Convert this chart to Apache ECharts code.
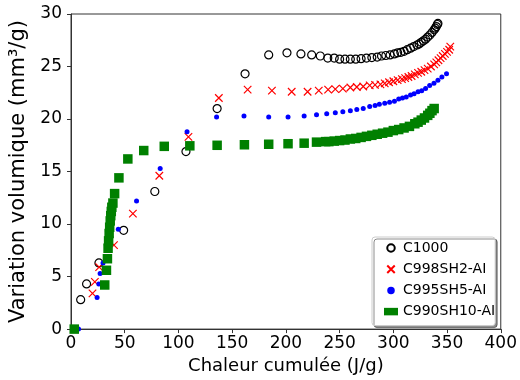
<!DOCTYPE html>
<html>
<head>
<meta charset="utf-8">
<script src="https://cdn.jsdelivr.net/npm/echarts@6/dist/echarts.min.js"></script>
<style>
html,body{margin:0;padding:0;background:#fff;}
#c{width:520px;height:380px;}
</style>
</head>
<body>
<div id="c"></div>
<script>
// ---- data ----
var seriesNames = ['C1000', 'C998SH2-AI', 'C995SH5-AI', 'C990SH10-AI'];
var xTicks = [0, 50, 100, 150, 200, 250, 300, 350, 400];
var yTicks = [0, 5, 10, 15, 20, 25, 30];

var c1000X = [9, 14.5, 26, 49, 78, 107, 136, 162, 184, 201, 214, 224, 232, 239, 245, 250, 255, 260, 265, 270, 275, 280, 285, 289, 293, 297, 301, 304, 307, 310, 313, 316, 319, 322, 324, 326, 328, 330, 332, 334, 336, 338, 339, 340, 341, 341.5];
var c1000Y = [2.8, 4.3, 6.3, 9.4, 13.1, 16.9, 21.0, 24.3, 26.1, 26.3, 26.2, 26.1, 26.0, 25.8, 25.8, 25.7, 25.7, 25.7, 25.7, 25.75, 25.8, 25.85, 25.9, 26.0, 26.05, 26.1, 26.2, 26.3, 26.35, 26.45, 26.6, 26.75, 26.9, 27.05, 27.15, 27.3, 27.45, 27.6, 27.8, 28.0, 28.25, 28.5, 28.65, 28.8, 29.0, 29.1];

var c998X = [20, 22.2, 26.2, 40, 57.6, 82.2, 109.3, 137.6, 164.4, 187, 205.4, 220.2, 230.6, 239.3, 246, 253, 260, 266, 272, 278, 283, 288, 292, 296, 300, 304, 308, 311, 314, 317, 320, 323, 326, 329, 332, 335, 338, 340, 342, 344, 346, 348, 350, 352, 353];
var c998Y = [3.4, 4.5, 5.9, 8.0, 11.0, 14.6, 18.3, 22.0, 22.8, 22.7, 22.6, 22.6, 22.7, 22.8, 22.85, 22.9, 23.0, 23.05, 23.1, 23.2, 23.25, 23.3, 23.4, 23.5, 23.6, 23.7, 23.8, 23.9, 24.0, 24.1, 24.25, 24.4, 24.5, 24.65, 24.8, 25.0, 25.2, 25.4, 25.6, 25.8, 26.0, 26.2, 26.4, 26.6, 26.9];

var c995X = [7, 24.3, 25.9, 27.1, 29.8, 44, 61, 83, 108, 135.5, 161, 184, 202, 217, 228.5, 238, 246, 253, 260, 266, 272, 278, 283, 287, 292, 296.5, 301, 305, 308.5, 312, 316, 319.3, 323, 326.4, 330, 333.8, 337.8, 341.5, 345.2, 349.5];
var c995Y = [0, 3.0, 4.3, 5.3, 6.3, 9.5, 12.2, 15.3, 18.8, 20.2, 20.3, 20.2, 20.2, 20.3, 20.4, 20.5, 20.6, 20.7, 20.8, 20.9, 21.0, 21.2, 21.3, 21.4, 21.5, 21.6, 21.7, 21.9, 22.0, 22.1, 22.3, 22.4, 22.6, 22.7, 22.9, 23.2, 23.4, 23.7, 24.0, 24.3];

var c990X = [3, 31.4, 33, 33.9, 34.5, 35, 35.5, 36, 36.5, 37, 37.5, 38, 39, 40.6, 44.6, 52.9, 67.7, 86.8, 110.6, 136, 161.4, 184, 202, 217, 228.5, 237, 240, 245, 250, 255, 260, 265, 270, 275, 280, 285, 290, 295, 300, 305, 310, 315, 320, 323, 326, 329, 332, 334, 336, 338];
var c990Y = [0, 4.2, 5.6, 6.7, 7.7, 8.4, 9.1, 9.7, 10.3, 10.8, 11.2, 11.6, 12.0, 12.9, 14.4, 16.2, 17.0, 17.4, 17.45, 17.5, 17.55, 17.6, 17.65, 17.7, 17.8, 17.85, 17.85, 17.9, 17.95, 18.0, 18.1, 18.15, 18.25, 18.35, 18.45, 18.55, 18.65, 18.75, 18.9, 19.0, 19.15, 19.3, 19.55, 19.7, 19.9, 20.1, 20.35, 20.55, 20.8, 21.0];

function zip(xs, ys) { return xs.map(function (x, i) { return [x, ys[i]]; }); }

var FONT = 'DejaVu Sans';
var chart = echarts.init(document.getElementById('c'), null, { renderer: 'canvas' });
var crossPath = 'path://M0,0L10,10M10,0L0,10';

chart.setOption({
  animation: false,
  backgroundColor: '#fff',
  textStyle: { fontFamily: FONT },
  grid: { left: 71, right: 16, top: 14, bottom: 48, show: true, borderColor: '#333', borderWidth: 1, backgroundColor: 'transparent' },
  xAxis: {
    type: 'value', min: xTicks[0], max: xTicks[xTicks.length - 1], interval: 50,
    name: 'Chaleur cumulée (J/g)', nameLocation: 'middle', nameGap: 24,
    nameTextStyle: { fontFamily: FONT, fontSize: 18, color: '#000' },
    axisLine: { show: true, onZero: false, lineStyle: { color: '#333', width: 1 } },
    axisTick: { show: true, inside: false, length: 4, lineStyle: { color: '#333' } },
    axisLabel: { fontFamily: FONT, fontSize: 17, color: '#000', margin: 6 },
    splitLine: { show: false }
  },
  yAxis: {
    type: 'value', min: yTicks[0], max: yTicks[yTicks.length - 1], interval: 5,
    name: 'Variation volumique (mm³/g)', nameLocation: 'middle', nameGap: 32,
    nameTextStyle: { fontFamily: FONT, fontSize: 21, color: '#000' },
    axisLine: { show: true, onZero: false, lineStyle: { color: '#333', width: 1 } },
    axisTick: { show: true, inside: false, length: 4, lineStyle: { color: '#333' } },
    axisLabel: { fontFamily: FONT, fontSize: 17, color: '#000', margin: 9 },
    splitLine: { show: false }
  },
  legend: {
    orient: 'vertical', left: 372, top: 237,
    padding: [4, 0, 7, 12],
    itemWidth: 14, itemHeight: 7.5, itemGap: 7.2,
    textStyle: { fontFamily: FONT, fontSize: 14, color: '#000' },
    backgroundColor: '#fff', borderColor: '#ccc', borderWidth: 1, borderRadius: 3,
    shadowColor: 'rgba(0,0,0,0.45)', shadowBlur: 0, shadowOffsetX: 2, shadowOffsetY: 2,
    data: seriesNames
  },
  series: [
    { name: seriesNames[0], type: 'scatter', data: zip(c1000X, c1000Y), symbol: 'circle', symbolSize: 8,
      itemStyle: { color: 'rgba(255,255,255,0)', borderColor: '#000', borderWidth: 1.2, opacity: 1 } },
    { name: seriesNames[1], type: 'scatter', data: zip(c998X, c998Y), symbol: crossPath, symbolSize: 7.5,
      itemStyle: { color: 'rgba(255,0,0,0)', borderColor: '#ff0000', borderWidth: 1.2, opacity: 1 } },
    { name: seriesNames[2], type: 'scatter', data: zip(c995X, c995Y), symbol: 'circle', symbolSize: 5,
      itemStyle: { color: '#0000ff', opacity: 1 } },
    { name: seriesNames[3], type: 'scatter', data: zip(c990X, c990Y), symbol: 'rect', symbolSize: 9.5,
      itemStyle: { color: '#008000', opacity: 1 } }
  ]
});
</script>
</body>
</html>
